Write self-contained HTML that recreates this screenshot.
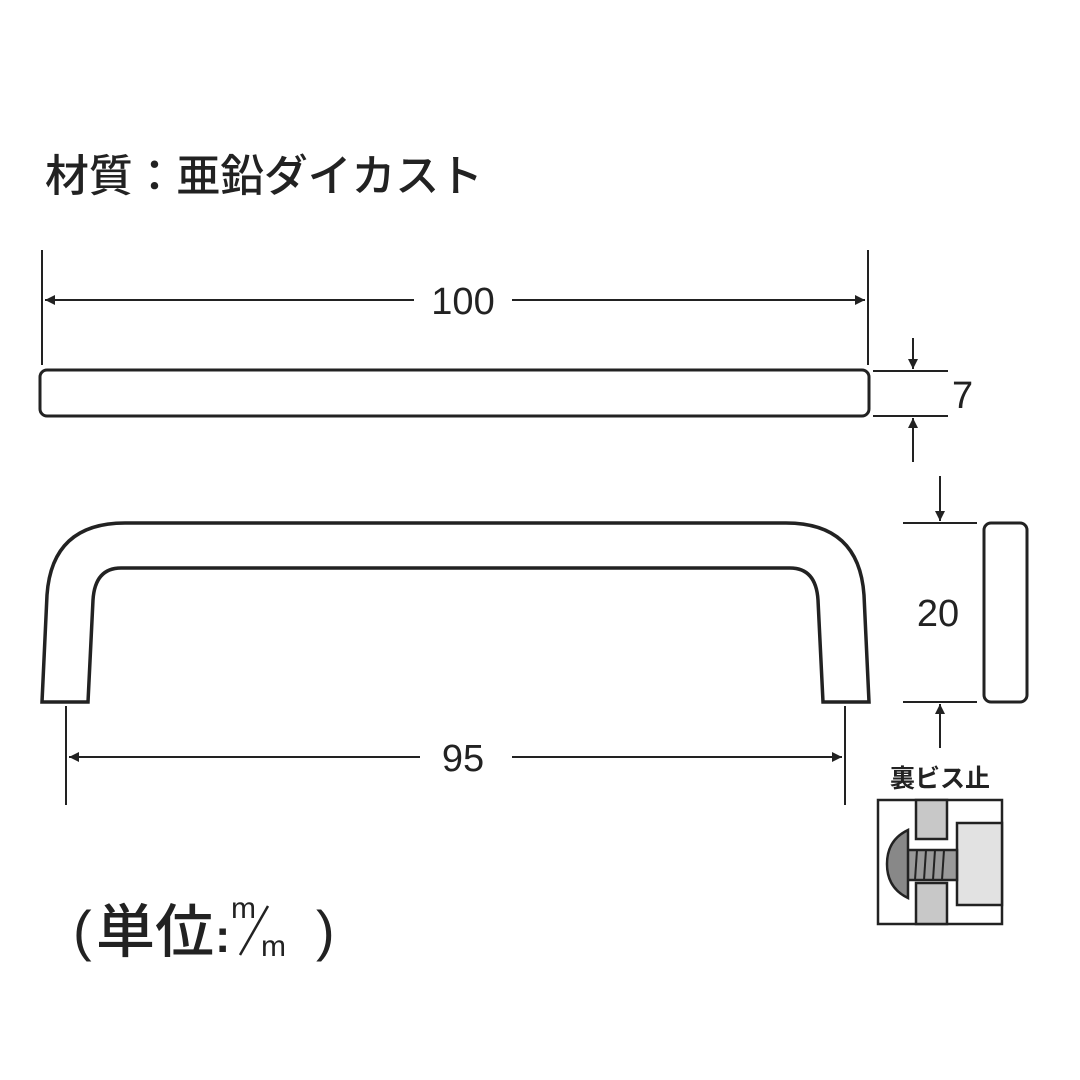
<!DOCTYPE html>
<html><head><meta charset="utf-8"><style>
body{margin:0;background:#fff}
svg{display:block}
text{font-family:"Liberation Sans","Noto Sans CJK JP",sans-serif;fill:#222}
.j{font-family:"Noto Sans CJK JP",sans-serif}
</style></head><body>
<svg width="1080" height="1080" viewBox="0 0 1080 1080">
<defs>
<marker id="a" viewBox="0 0 10 10" refX="10" refY="5" markerWidth="14" markerHeight="10" markerUnits="userSpaceOnUse" orient="auto"><path d="M0,0L10,5L0,10z" fill="#222"/></marker>
</defs>
<text class="j" x="45" y="191" font-size="44" font-weight="500" textLength="438" lengthAdjust="spacing">材質：亜鉛ダイカスト</text>
<g stroke="#222" stroke-width="2" fill="none">
<line x1="42" y1="250" x2="42" y2="365"/>
<line x1="868" y1="250" x2="868" y2="365"/>
<line x1="414" y1="300" x2="45" y2="300" marker-end="url(#a)"/>
<line x1="512" y1="300" x2="865" y2="300" marker-end="url(#a)"/>
<rect x="40" y="370" width="829" height="46" rx="7" stroke-width="3"/>
<line x1="873" y1="371" x2="948" y2="371"/>
<line x1="873" y1="416" x2="948" y2="416"/>
<line x1="913" y1="338" x2="913" y2="369" marker-end="url(#a)"/>
<line x1="913" y1="462" x2="913" y2="418" marker-end="url(#a)"/>
<path d="M42,702 L47,595 Q52,523 125,523 L786,523 Q859,523 864,595 L869,702 L823,702 L818,600 Q816,568 790,568 L121,568 Q95,568 93,600 L88,702 Z" stroke-width="3.5"/>
<line x1="66" y1="706" x2="66" y2="805"/>
<line x1="845" y1="706" x2="845" y2="805"/>
<line x1="420" y1="757" x2="69" y2="757" marker-end="url(#a)"/>
<line x1="512" y1="757" x2="842" y2="757" marker-end="url(#a)"/>
<line x1="903" y1="523" x2="977" y2="523"/>
<line x1="903" y1="702" x2="977" y2="702"/>
<line x1="940" y1="476" x2="940" y2="521" marker-end="url(#a)"/>
<line x1="940" y1="748" x2="940" y2="704" marker-end="url(#a)"/>
<rect x="984" y="523" width="43" height="179" rx="7" stroke-width="3"/>
</g>
<text x="463" y="314" font-size="38" text-anchor="middle">100</text>
<text x="463" y="771" font-size="38" text-anchor="middle">95</text>
<text x="952" y="408" font-size="38">7</text>
<text x="938" y="626" font-size="38" text-anchor="middle">20</text>
<text class="j" x="940" y="787" font-size="25" font-weight="bold" text-anchor="middle">裏ビス止</text>
<g stroke="#222" stroke-width="2.5">
<rect x="878" y="800" width="124" height="124" fill="#fff"/>
<rect x="916" y="800" width="31" height="39" fill="#c8c8c8"/>
<rect x="916" y="883" width="31" height="41" fill="#c8c8c8"/>
<rect x="957" y="823" width="45" height="82" fill="#e2e2e2"/>
<rect x="907" y="850" width="50" height="30" fill="#999"/>
<path d="M908,830 Q887,840 887,864 Q887,888 908,898 Z" fill="#888"/>
</g>
<g stroke="#222" stroke-width="2"><line x1="917" y1="850" x2="915" y2="880"/><line x1="926" y1="850" x2="924" y2="880"/><line x1="935" y1="850" x2="933" y2="880"/><line x1="944" y1="850" x2="942" y2="880"/></g>
<text x="73" y="950" font-size="56">(</text>
<text class="j" x="96" y="952" font-size="58" font-weight="500" textLength="118" lengthAdjust="spacingAndGlyphs">単位</text>
<text x="215" y="952" font-size="46" font-weight="bold">:</text>
<text x="231" y="918" font-size="30">m</text>
<line x1="240" y1="955" x2="268" y2="906" stroke="#222" stroke-width="2.5"/>
<text x="261" y="956" font-size="30">m</text>
<text x="316" y="950" font-size="56">)</text>
</svg>
</body></html>
